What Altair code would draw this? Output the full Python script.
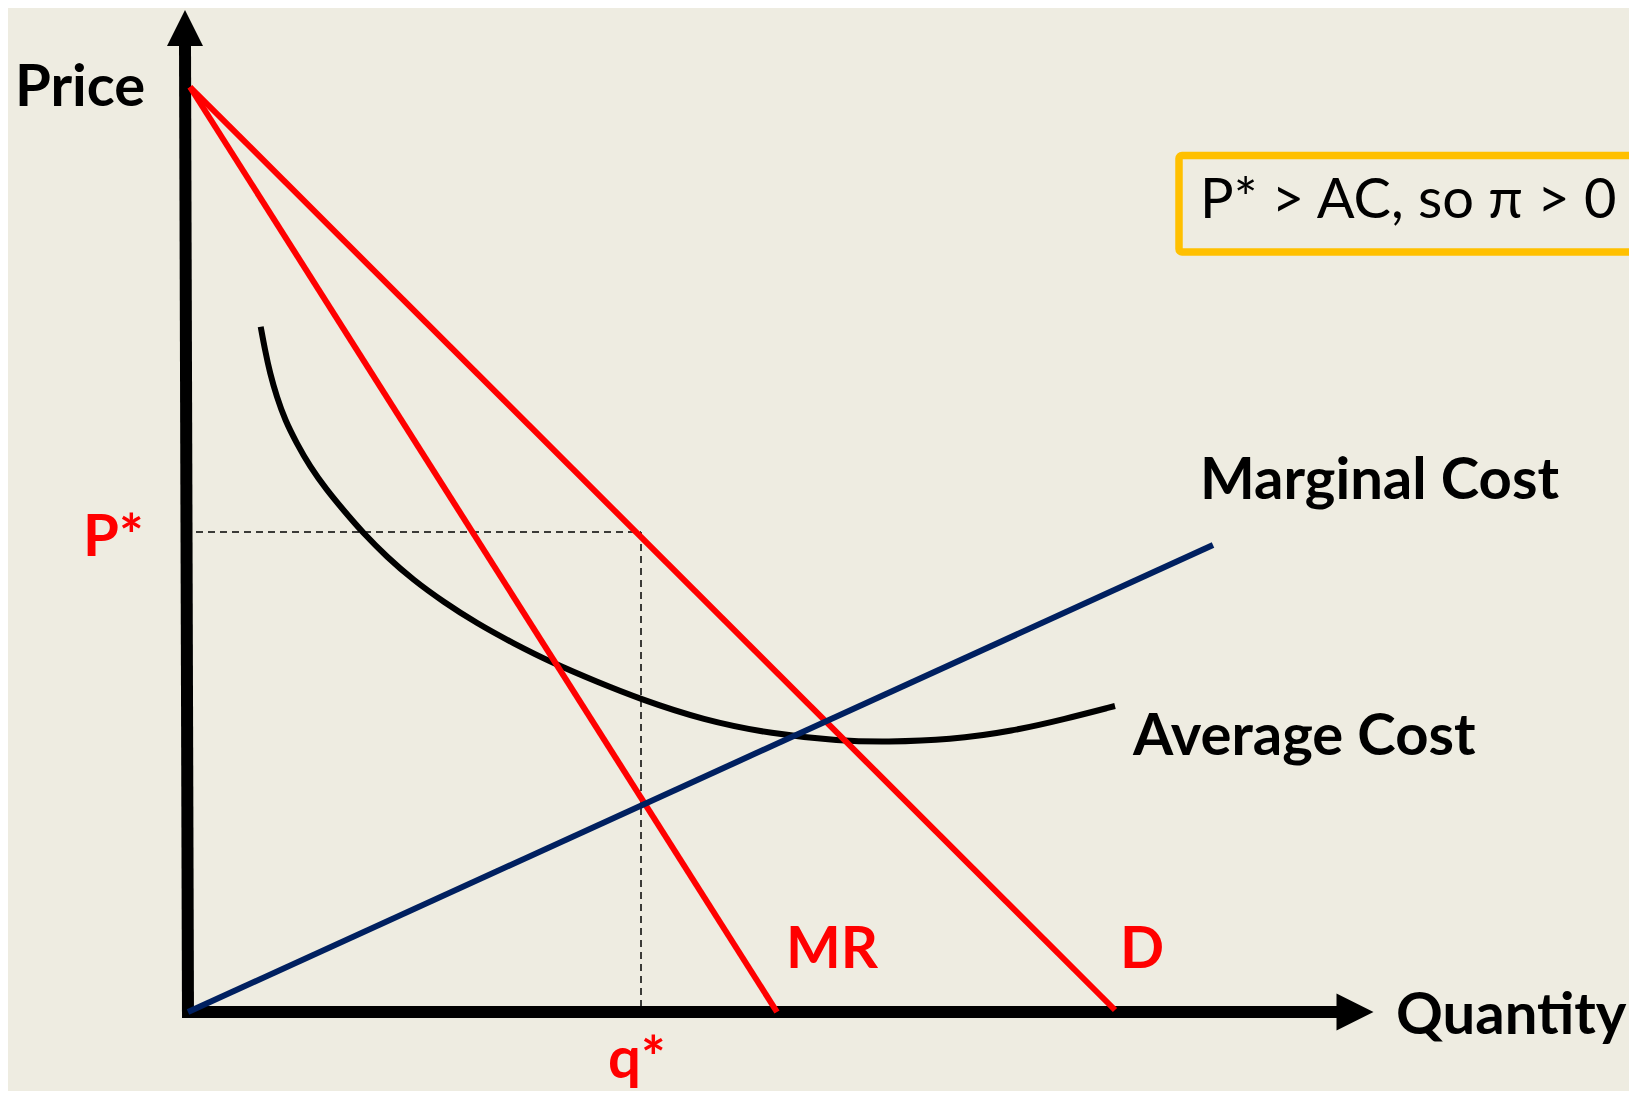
import altair as alt
import pandas as pd

# ---- curves (quantity units, price units) ----
demand_q = [0.2, 92.7]
demand_p = [92.5, 0.2]
mr_q = [0.2, 58.9]
mr_p = [92.5, 0.0]
mc_q = [0.0, 102.5]
mc_p = [0.0, 46.7]
ac_q = [7.27, 7.7, 8.2, 8.87, 9.7, 10.87, 12.2, 13.87, 15.53, 17.53, 19.87,
        22.53, 25.53, 28.87, 32.53, 36.53, 40.87, 45.2, 51.5, 58.4, 65.2,
        69.8, 76.2, 82.5, 87.7, 92.7]
ac_p = [68.53, 66.2, 63.87, 61.53, 59.2, 56.87, 54.53, 52.2, 50.2, 47.87, 45.53,
        43.2, 41.03, 38.87, 36.87, 34.87, 33.03, 31.3, 29.2, 27.8, 27.1,
        27.0, 27.2, 28.1, 29.3, 30.6]

p_star = 48.0
q_star = 45.3

# axes extents
q_axis = [-0.6, 115.2]
p_axis = [-0.6, 96.7]
q_arrow = 116.7
p_arrow = 98.4

# labels: text, q, p
bold_black_text = ["Price", "Quantity", "Marginal Cost", "Average Cost"]
bold_black_q = [-17.3, 120.8, 101.2, 94.5]
bold_black_p = [90.6, -2.2, 51.3, 25.7]

bold_red_text = ["P*", "q*", "MR", "D"]
bold_red_q = [-10.5, 42.0, 59.8, 93.2]
bold_red_p = [45.6, -6.6, 4.4, 4.4]

note_text = ["P* > AC, so \u03c0 > 0"]
note_q = [101.2]
note_p = [79.4]
box_q = [99.1, 150.0]
box_p = [76.0, 85.65]

# ---- layout ----
W, H = 1621, 1083
XDOM = [-18.0, 144.1]
YDOM = [-7.9, 100.4]
BG = "#EEECE1"
RED = "#FF0000"
NAVY = "#002060"
GOLD = "#FFC000"
FONT = "Lato"
FS = 58
FS_NOTE = 56

xs = alt.Scale(domain=XDOM, nice=False, zero=False)
ys = alt.Scale(domain=YDOM, nice=False, zero=False)


def X(f):
    return alt.X(f, type="quantitative", scale=xs, axis=None)


def Y(f):
    return alt.Y(f, type="quantitative", scale=ys, axis=None)


def line_df(qs, ps):
    return pd.DataFrame({"q": qs, "p": ps, "i": list(range(len(qs)))})


# axes
axes_df = pd.DataFrame({
    "q": [-0.3, q_axis[0]], "q2": [0.0, q_axis[1]],
    "p": [p_axis[1], 0.0], "p2": [p_axis[0], 0.0],
})
axes = alt.Chart(axes_df).mark_rule(color="black", strokeWidth=12, strokeCap="butt").encode(
    x=X("q"), x2="q2", y=Y("p"), y2="p2")

arrow_up = alt.Chart(pd.DataFrame({"q": [-0.3], "p": [p_arrow]})).mark_point(
    shape="M0,-1L1,1L-1,1Z", filled=True, size=36 * 36, color="black", opacity=1, strokeWidth=0
).encode(x=X("q"), y=Y("p"))
arrow_right = alt.Chart(pd.DataFrame({"q": [q_arrow], "p": [0.0]})).mark_point(
    shape="M1,0L-1,-1L-1,1Z", filled=True, size=37 * 37, color="black", opacity=1, strokeWidth=0
).encode(x=X("q"), y=Y("p"))

# dashed guides
dash_df = pd.DataFrame({
    "q": [0.8, q_star], "q2": [q_star, q_star],
    "p": [p_star, p_star], "p2": [p_star, 0.6],
})
dashes = alt.Chart(dash_df).mark_rule(color="black", strokeWidth=1.5, strokeDash=[7, 5]).encode(
    x=X("q"), x2="q2", y=Y("p"), y2="p2")

ac = alt.Chart(line_df(ac_q, ac_p)).mark_line(
    color="black", strokeWidth=6, interpolate="basis", strokeCap="butt"
).encode(x=X("q"), y=Y("p"), order="i:Q")
demand = alt.Chart(line_df(demand_q, demand_p)).mark_line(
    color=RED, strokeWidth=6, strokeCap="butt").encode(x=X("q"), y=Y("p"), order="i:Q")
mr = alt.Chart(line_df(mr_q, mr_p)).mark_line(
    color=RED, strokeWidth=6, strokeCap="butt").encode(x=X("q"), y=Y("p"), order="i:Q")
mc = alt.Chart(line_df(mc_q, mc_p)).mark_line(
    color=NAVY, strokeWidth=6, strokeCap="butt").encode(x=X("q"), y=Y("p"), order="i:Q")

box = alt.Chart(pd.DataFrame({"q": [box_q[0]], "q2": [box_q[1]], "p": [box_p[0]], "p2": [box_p[1]]})).mark_rect(
    fill=BG, fillOpacity=0, stroke=GOLD, strokeWidth=7.5, cornerRadius=3
).encode(x=X("q"), x2="q2", y=Y("p"), y2="p2")

t_black = alt.Chart(pd.DataFrame({"q": bold_black_q, "p": bold_black_p, "t": bold_black_text})).mark_text(
    align="left", baseline="alphabetic", font=FONT, fontWeight="bold", fontSize=FS, color="black"
).encode(x=X("q"), y=Y("p"), text="t:N")
t_red = alt.Chart(pd.DataFrame({"q": bold_red_q, "p": bold_red_p, "t": bold_red_text})).mark_text(
    align="left", baseline="alphabetic", font=FONT, fontWeight="bold", fontSize=FS, color=RED
).encode(x=X("q"), y=Y("p"), text="t:N")
t_note = alt.Chart(pd.DataFrame({"q": note_q, "p": note_p, "t": note_text})).mark_text(
    align="left", baseline="alphabetic", font=FONT, fontWeight="normal", fontSize=FS_NOTE, color="black"
).encode(x=X("q"), y=Y("p"), text="t:N")

chart = alt.layer(
    axes, arrow_up, arrow_right, dashes, ac, demand, mr, mc, box, t_black, t_red, t_note
).properties(
    width=W, height=H, padding=0,
    autosize=alt.AutoSizeParams(type="none"),
    background=BG,
).configure_view(stroke=None)

chart.save("out.html", embed_options={"renderer": "svg", "actions": False})
